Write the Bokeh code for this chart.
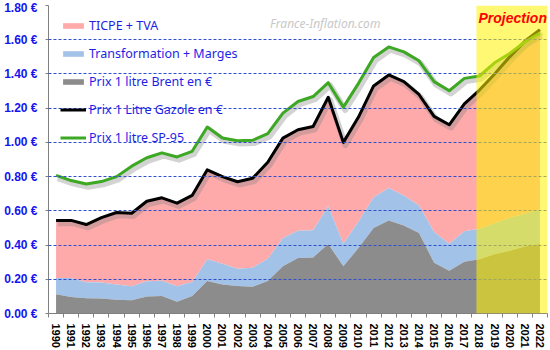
from bokeh.plotting import figure
from bokeh.models import (ColumnDataSource, FixedTicker, CustomJSTickFormatter,
                          BoxAnnotation, Label, Legend, Range1d)
from bokeh.transform import dodge
from bokeh.embed import file_html
from bokeh.resources import INLINE

years = list(range(1990, 2023))
brent = [0.113, 0.097, 0.089, 0.087, 0.080, 0.078, 0.100, 0.103, 0.068, 0.103,
         0.190, 0.169, 0.161, 0.157, 0.190, 0.276, 0.324, 0.328, 0.406, 0.276,
         0.383, 0.499, 0.544, 0.515, 0.470, 0.297, 0.250, 0.303, 0.317, 0.346,
         0.367, 0.392, 0.406]
marges = [0.095, 0.111, 0.094, 0.094, 0.089, 0.081, 0.088, 0.089, 0.091, 0.081,
          0.127, 0.122, 0.101, 0.111, 0.130, 0.165, 0.159, 0.159, 0.221, 0.132,
          0.155, 0.181, 0.190, 0.174, 0.161, 0.179, 0.158, 0.177, 0.178, 0.182,
          0.192, 0.191, 0.202]
gazole = [0.544, 0.544, 0.520, 0.560, 0.590, 0.586, 0.656, 0.676, 0.645, 0.690,
          0.840, 0.800, 0.770, 0.790, 0.884, 1.025, 1.074, 1.093, 1.264, 1.000,
          1.148, 1.330, 1.394, 1.355, 1.280, 1.152, 1.103, 1.225, 1.306, 1.400,
          1.500, 1.591, 1.659]
sp95 = [0.807, 0.777, 0.757, 0.771, 0.800, 0.861, 0.910, 0.939, 0.915, 0.948,
        1.090, 1.026, 1.010, 1.012, 1.051, 1.171, 1.239, 1.268, 1.349, 1.206,
        1.345, 1.496, 1.558, 1.529, 1.477, 1.355, 1.302, 1.374, 1.388, 1.465,
        1.520, 1.587, 1.639]
y_ticks = [0.0, 0.2, 0.4, 0.6, 0.8, 1.0, 1.2, 1.4, 1.6, 1.8]
projection_start = 2017.8

top_marges = [b + m for b, m in zip(brent, marges)]
src = ColumnDataSource(dict(x=years, brent=brent, top_marges=top_marges,
                            gazole=gazole, sp95=sp95))

p = figure(width=550, height=350, output_backend="svg", toolbar_location=None,
           x_range=Range1d(1989.5, 2022.5), y_range=Range1d(0, 1.8),
           min_border_left=48, min_border_right=3, min_border_top=5,
           min_border_bottom=35)
p.outline_line_color = None
p.background_fill_color = "white"
p.border_fill_color = "white"

r_tax = p.varea(x='x', y1='top_marges', y2='gazole', source=src, fill_color="#FFAAAA")
r_mar = p.varea(x='x', y1='brent', y2='top_marges', source=src, fill_color="#A3C2E8")
r_brent = p.varea(x='x', y1=0, y2='brent', source=src, fill_color="#8C8C8C")

for col in ['gazole', 'sp95']:
    p.line(x=dodge('x', 0.12), y=dodge(col, -0.016), source=src,
           line_color="#808080", line_alpha=0.35, line_width=6, line_join="round")

r_gaz = p.line(x='x', y='gazole', source=src, line_color="black", line_width=3,
               line_join="round")
r_sp = p.line(x='x', y='sp95', source=src, line_color="#3DA823", line_width=3,
              line_join="round")

# axes
p.xaxis.ticker = FixedTicker(ticks=years, minor_ticks=[y - 0.5 for y in years] + [years[-1] + 0.5])
p.xaxis.major_label_overrides = {y: str(y) for y in years}
p.xaxis.major_label_orientation = "vertical"
p.xaxis.major_tick_out = 0
p.xaxis.major_tick_in = 0
p.xaxis.minor_tick_out = 4
p.xaxis.minor_tick_in = 0
p.xaxis.major_label_standoff = 6
p.xaxis.major_label_text_font = "Liberation Sans"
p.xaxis.major_label_text_font_style = "bold"
p.xaxis.major_label_text_font_size = "11px"
p.xaxis.major_label_text_color = "black"
p.xaxis.axis_line_color = "#808080"
p.xaxis.minor_tick_line_color = "#808080"

p.yaxis.ticker = FixedTicker(ticks=y_ticks, minor_ticks=[])
p.yaxis.formatter = CustomJSTickFormatter(code="return tick.toFixed(2) + ' \u20ac';")
p.yaxis.major_tick_out = 3
p.yaxis.major_tick_in = 0
p.yaxis.major_label_standoff = 8
p.yaxis.major_label_text_font = "Liberation Sans"
p.yaxis.major_label_text_font_style = "bold"
p.yaxis.major_label_text_font_size = "12px"
p.yaxis.major_label_text_color = "#1515F0"
p.yaxis.axis_line_color = "#808080"
p.yaxis.major_tick_line_color = "#808080"

p.xgrid.visible = False
p.ygrid.ticker = FixedTicker(ticks=y_ticks)
p.ygrid.grid_line_color = "#2F4FCF"
p.ygrid.grid_line_dash = "3 2"
p.ygrid.grid_line_width = 1
p.ygrid.level = "guide"

# projection zone
p.add_layout(BoxAnnotation(left=projection_start, fill_color="#FFF200",
                           fill_alpha=0.55, line_alpha=0))

p.add_layout(Label(x=2007.8, y=1.695, text="France-Inflation.com",
                   text_font="Noto Sans", text_font_style="italic",
                   text_font_size="12px", text_color="#C8C8C8",
                   text_align="center", text_baseline="middle"))
p.add_layout(Label(x=2020.2, y=1.725, text="Projection",
                   text_font="Liberation Sans", text_font_style="bold italic",
                   text_font_size="14px", text_color="#FF0000",
                   text_align="center", text_baseline="middle"))

legend = Legend(items=[("TICPE + TVA", [r_tax]),
                       ("Transformation + Marges", [r_mar]),
                       ("Prix 1 litre Brent en \u20ac", [r_brent]),
                       ("Prix 1 Litre Gazole en \u20ac", [r_gaz]),
                       ("Prix 1 litre SP-95", [r_sp])],
                location="top_left", margin=1, padding=11,
                glyph_width=26, glyph_height=7, label_height=16,
                spacing=11, label_standoff=3,
                label_text_font="Noto Sans", label_text_font_size="12.5px",
                label_text_color="#1E1EE6",
                background_fill_alpha=0, border_line_alpha=0)
p.add_layout(legend)

open("out.html", "w").write(file_html(p, INLINE))
